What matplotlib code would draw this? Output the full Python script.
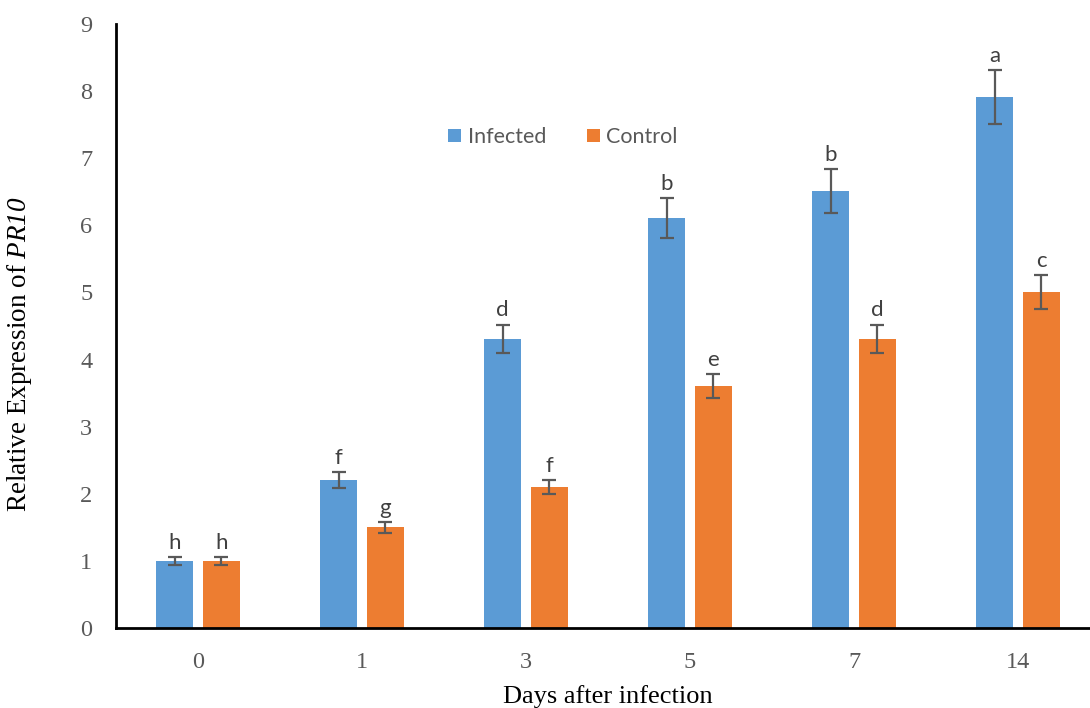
import numpy as np
import matplotlib.pyplot as plt

plt.rcParams['mathtext.fontset'] = 'custom'
plt.rcParams['mathtext.rm'] = 'Liberation Serif'
plt.rcParams['mathtext.sf'] = 'Liberation Serif:italic'

days = ['0', '1', '3', '5', '7', '14']
infected = [1.0, 2.2, 4.31, 6.11, 6.51, 7.91]
infected_err = [0.06, 0.12, 0.21, 0.30, 0.33, 0.40]
control = [1.0, 1.5, 2.1, 3.6, 4.31, 5.01]
control_err = [0.06, 0.08, 0.10, 0.18, 0.21, 0.25]
infected_letters = ['h', 'f', 'd', 'b', 'b', 'a']
control_letters = ['h', 'g', 'f', 'e', 'd', 'c']

blue = '#5B9BD5'
orange = '#ED7D31'
errc = '#595959'
tickc = '#595959'

fig = plt.figure(figsize=(10.9, 7.08), dpi=100)
ax = fig.add_axes([116/1090, 1 - 628/708, 984/1090, (628 - 24)/708])

x = np.arange(len(days))
w = 0.226
off = 0.143

ax.bar(x - off, infected, w, color=blue, label='Infected', zorder=2)
ax.bar(x + off, control, w, color=orange, label='Control', zorder=2)
ax.errorbar(x - off, infected, yerr=infected_err, fmt='none', ecolor=errc,
            elinewidth=1.6, capsize=5, capthick=1.6, zorder=3)
ax.errorbar(x + off, control, yerr=control_err, fmt='none', ecolor=errc,
            elinewidth=1.6, capsize=5, capthick=1.6, zorder=3)

# significance letters above the error bars
for xi, v, e, t in zip(x - off, infected, infected_err, infected_letters):
    ax.annotate(t, (xi, v + e), xytext=(0, 3), textcoords='offset points',
                ha='center', va='bottom', fontsize=16, color='#404040',
                family='Lato')
for xi, v, e, t in zip(x + off, control, control_err, control_letters):
    ax.annotate(t, (xi, v + e), xytext=(0, 3), textcoords='offset points',
                ha='center', va='bottom', fontsize=16, color='#404040',
                family='Lato')

ax.set_xlim(-0.5, 5.5)
ax.set_ylim(0, 9)
ax.set_xticks(x)
ax.set_xticklabels(days)
ax.set_yticks(range(10))
ax.tick_params(length=0, labelsize=17.5, colors=tickc)
ax.tick_params(axis='y', pad=17)
ax.tick_params(axis='x', pad=17)
for lab in ax.get_xticklabels() + ax.get_yticklabels():
    lab.set_family('Liberation Serif')

for s in ['top', 'right']:
    ax.spines[s].set_visible(False)
for s in ['left', 'bottom']:
    ax.spines[s].set_linewidth(2)
    ax.spines[s].set_color('black')

ax.set_xlabel('Days after infection', family='Liberation Serif', fontsize=19)
ax.xaxis.set_label_coords(0.5, -0.094)
ax.set_ylabel('Relative Expression of $\\mathsf{PR10}$',
              family='Liberation Serif', fontsize=19.5)
ax.yaxis.set_label_coords(-0.083, 0.454)

leg = fig.legend(loc='center', bbox_to_anchor=(563/1090, 1 - 137/708), ncol=2,
                 frameon=False, handlelength=0.6, handleheight=0.6,
                 columnspacing=1.9, handletextpad=0.3,
                 prop={'family': 'Lato', 'size': 15.5})
for t in leg.get_texts():
    t.set_color('#595959')

fig.savefig('out.png', dpi=100)
